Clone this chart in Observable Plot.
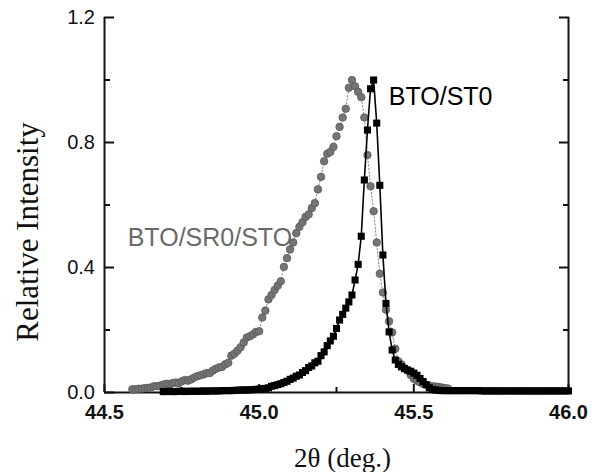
<!DOCTYPE html>
<html>
<head>
<meta charset="utf-8">
<script src="https://cdn.jsdelivr.net/npm/d3@7"></script>
<script src="https://cdn.jsdelivr.net/npm/@observablehq/plot@0.6"></script>
<style>
  html, body { margin: 0; padding: 0; background: #fff; }
  #chart svg { display: block; }
</style>
</head>
<body>
<div id="chart"></div>
<script>
// BTO/SR0/STO (grey circles)
const greyX = [44.59,44.60,44.61,44.62,44.63,44.64,44.65,44.66,44.67,44.68,44.69,
  44.70,44.71,44.72,44.73,44.74,44.75,44.76,44.77,44.78,44.79,
  44.80,44.81,44.82,44.83,44.84,44.85,44.86,44.87,44.88,44.89,
  44.90,44.91,44.92,44.93,44.94,44.95,44.96,44.97,44.98,44.99,
  45.00,45.01,45.02,45.03,45.04,45.05,45.06,45.07,45.08,45.09,
  45.10,45.11,45.12,45.13,45.14,45.15,45.16,45.17,45.18,45.19,
  45.20,45.21,45.22,45.23,45.24,45.25,45.26,45.27,45.28,45.29,
  45.30,45.31,45.32,45.33,45.34,45.35,45.36,45.37,45.38,45.39,
  45.40,45.41,45.42,45.43,45.44,45.45,45.46,45.47,45.48,45.49,
  45.50,45.51,45.52,45.53,45.54,45.55,45.56,45.57,45.58,45.59,
  45.60,45.61];
const greyY = [0.010,0.010,0.012,0.012,0.014,0.015,0.016,0.020,0.020,0.022,0.025,
  0.028,0.026,0.030,0.032,0.030,0.036,0.040,0.038,0.042,0.048,
  0.052,0.055,0.058,0.062,0.062,0.070,0.076,0.080,0.082,0.090,
  0.095,0.118,0.124,0.134,0.145,0.160,0.176,0.180,0.186,0.194,
  0.196,0.240,0.262,0.298,0.312,0.328,0.342,0.356,0.402,0.430,
  0.458,0.480,0.510,0.530,0.545,0.562,0.570,0.590,0.606,0.650,
  0.690,0.740,0.764,0.770,0.786,0.820,0.850,0.880,0.908,0.975,
  1.000,0.980,0.962,0.945,0.880,0.760,0.660,0.580,0.480,0.380,
  0.320,0.265,0.228,0.192,0.140,0.100,0.090,0.078,0.070,0.056,
  0.044,0.038,0.032,0.028,0.025,0.022,0.020,0.019,0.018,0.016,
  0.014,0.013];

// BTO/ST0 (black squares)
const blackX = [44.69,44.70,44.71,44.72,44.73,44.74,44.75,44.76,44.77,44.78,44.79,
  44.80,44.81,44.82,44.83,44.84,44.85,44.86,44.87,44.88,44.89,
  44.90,44.91,44.92,44.93,44.94,44.95,44.96,44.97,44.98,44.99,
  45.00,45.01,45.02,45.03,45.04,45.05,45.06,45.07,45.08,45.09,
  45.10,45.11,45.12,45.13,45.14,45.15,45.16,45.17,45.18,45.19,
  45.20,45.21,45.22,45.23,45.24,45.25,45.26,45.27,45.28,45.29,
  45.30,45.31,45.32,45.33,45.34,45.35,45.36,45.37,45.38,45.39,
  45.40,45.41,45.42,45.43,45.44,45.45,45.46,45.47,45.48,45.49,
  45.50,45.51,45.52,45.53,45.54,45.55,45.56,45.57,45.58,45.59,
  45.60,45.61,45.62,45.63,45.64,45.65,45.66,45.67,45.68,45.69,
  45.70,45.71,45.72,45.73,45.74,45.75,45.76,45.77,45.78,45.79,
  45.80,45.81,45.82,45.83,45.84,45.85,45.86,45.87,45.88,45.89,
  45.90,45.91,45.92,45.93,45.94,45.95,45.96,45.97,45.98,45.99,46.00];
const blackY = [0.003,0.003,0.004,0.003,0.003,0.004,0.004,0.003,0.004,0.004,0.004,
  0.004,0.004,0.005,0.004,0.005,0.005,0.005,0.005,0.006,0.006,
  0.006,0.006,0.007,0.007,0.008,0.008,0.008,0.009,0.009,0.010,
  0.011,0.012,0.013,0.015,0.020,0.022,0.025,0.028,0.032,0.036,
  0.042,0.046,0.052,0.056,0.064,0.070,0.080,0.085,0.095,0.100,
  0.118,0.130,0.150,0.165,0.180,0.205,0.232,0.250,0.270,0.290,
  0.312,0.360,0.410,0.500,0.680,0.840,0.972,1.000,0.862,0.663,
  0.440,0.285,0.194,0.136,0.104,0.090,0.082,0.076,0.072,0.068,
  0.062,0.055,0.045,0.035,0.025,0.015,0.010,0.008,0.007,0.006,
  0.006,0.006,0.006,0.006,0.006,0.006,0.006,0.006,0.006,0.006,
  0.006,0.006,0.005,0.005,0.005,0.005,0.005,0.005,0.005,0.005,
  0.005,0.005,0.005,0.005,0.005,0.005,0.005,0.005,0.005,0.005,
  0.005,0.005,0.005,0.005,0.005,0.005,0.005,0.005,0.005,0.005,0.005];

const xMajor = [44.5, 45.0, 45.5, 46.0];
const xMinor = [44.75, 45.25, 45.75];
const yMajor = [0.0, 0.4, 0.8, 1.2];
const yMinor = [0.2, 0.6, 1.0];

const seriesLabels = [
  {x: 45.419, y: 0.919, text: "BTO/ST0", color: "#000"},
  {x: 44.575, y: 0.468, text: "BTO/SR0/STO", color: "#6a6a6a"}
];
const xTitle = "2θ (deg.)";
const yTitle = "Relative Intensity";

const grey = greyX.map((x, i) => ({x, y: greyY[i]}));
const black = blackX.map((x, i) => ({x, y: blackY[i]}));

const sans = "'Liberation Sans', Arial, Helvetica, sans-serif";
const serif = "'Liberation Serif', 'Times New Roman', serif";
const fmt = d3.format(".1f");
const blank = () => "";

const chart = Plot.plot({
  width: 599,
  height: 472,
  marginLeft: 104,
  marginRight: 31,
  marginTop: 17,
  marginBottom: 80,
  x: {domain: [44.5, 46.0]},
  y: {domain: [0, 1.2]},
  style: {fontFamily: sans, fontSize: "20px", color: "#111", background: "#fff"},
  marks: [
    Plot.axisY({ticks: yMajor, tickSize: -10, tickPadding: 19.5, tickFormat: fmt, label: null, strokeWidth: 2, fontSize: 20}),
    Plot.axisY({ticks: yMinor, tickSize: -6, tickFormat: blank, label: null, strokeWidth: 2}),
    Plot.axisY({anchor: "right", ticks: yMajor, tickSize: -10, tickFormat: blank, label: null, strokeWidth: 2}),
    Plot.axisY({anchor: "right", ticks: yMinor, tickSize: -6, tickFormat: blank, label: null, strokeWidth: 2}),
    Plot.axisX({ticks: xMajor, tickSize: -8, tickPadding: 20.5, tickFormat: fmt, label: null, strokeWidth: 2, fontSize: 20, fontWeight: "bold"}),
    Plot.axisX({ticks: xMinor, tickSize: -5, tickFormat: blank, label: null, strokeWidth: 2}),
    Plot.ruleX([44.5, 46.0], {stroke: "#111", strokeWidth: 2}),
    Plot.ruleY([0], {stroke: "#111", strokeWidth: 2}),
    Plot.text(seriesLabels, {x: "x", y: "y", text: "text", fill: "color", textAnchor: "start", lineAnchor: "bottom", fontSize: 25, fontFamily: sans}),
    Plot.line(grey, {x: "x", y: "y", stroke: "#8a8a8a", strokeWidth: 1, strokeDasharray: "1.5,2"}),
    Plot.dot(grey, {x: "x", y: "y", r: 3.8, fill: "#747474", stroke: "#555", strokeWidth: 0.7}),
    Plot.line(black, {x: "x", y: "y", stroke: "#000", strokeWidth: 1.6}),
    Plot.dot(black, {x: "x", y: "y", symbol: "square", r: 4, fill: "#000", stroke: "none"}),
    Plot.text([xTitle], {frameAnchor: "bottom", textAnchor: "middle", dx: 6, dy: 74.5, lineAnchor: "bottom", fontFamily: serif, fontSize: 27, fill: "#111"}),
    Plot.text([yTitle], {frameAnchor: "left", textAnchor: "middle", lineAnchor: "middle", rotate: -90, dx: -76, dy: 27, fontFamily: serif, fontSize: 31, fill: "#111"})
  ]
});
document.getElementById("chart").appendChild(chart);
</script>
</body>
</html>
